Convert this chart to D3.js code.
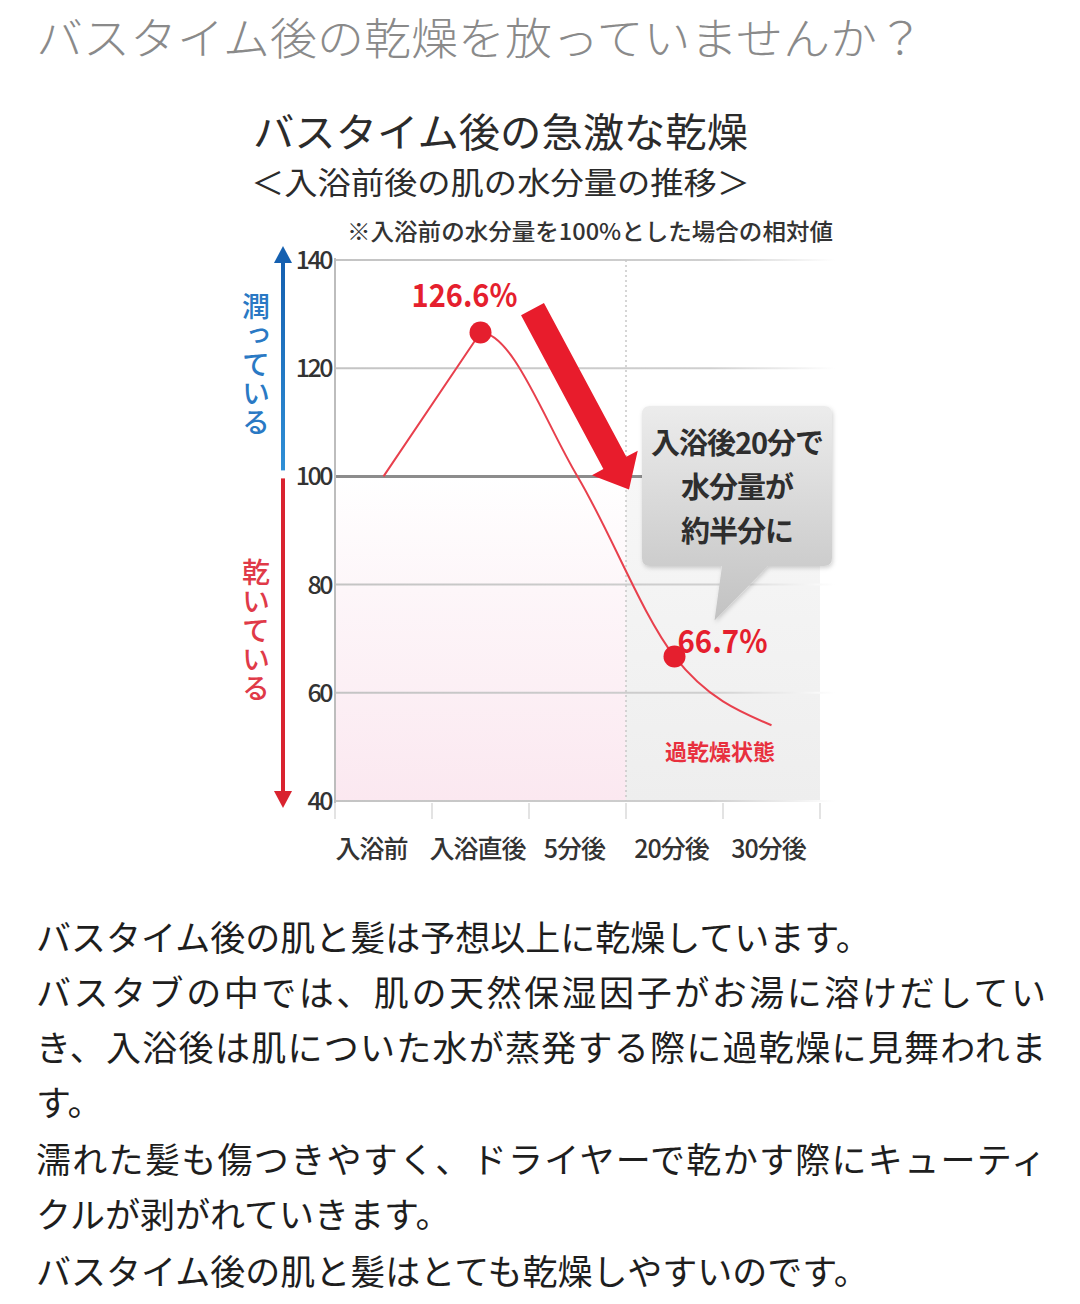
<!DOCTYPE html>
<html><head><meta charset="utf-8">
<script src="https://cdn.jsdelivr.net/npm/d3@7"></script>
<style>
html,body{margin:0;padding:0;background:#fff;}
svg{display:block;}
text{font-family:"Noto Sans CJK JP","Noto Sans",sans-serif;}
</style></head>
<body>
<svg id="chart" width="1080" height="1304"></svg>
<script>
// ---- data ----
const pageTitle = "バスタイム後の乾燥を放っていませんか？";
const chartTitle = "バスタイム後の急激な乾燥";
const chartSubtitle = "＜入浴前後の肌の水分量の推移＞";
const chartNote = "※入浴前の水分量を100%とした場合の相対値";
const categories = ["入浴前", "入浴直後", "5分後", "20分後", "30分後"];
const moistureValues = [100, 126.6, 100, 66.7, 54];
const yTicks = [40, 60, 80, 100, 120, 140];
const highlightIdx = [1, 3];
const highlightLabels = ["126.6%", "66.7%"];
const moistLabel = "潤っている";
const dryLabel = "乾いている";
const calloutLines = ["入浴後20分で", "水分量が", "約半分に"];
const overDryLabel = "過乾燥状態";
const bodyLines = [
  "バスタイム後の肌と髪は予想以上に乾燥しています。",
  "バスタブの中では、肌の天然保湿因子がお湯に溶けだしてい",
  "き、入浴後は肌についた水が蒸発する際に過乾燥に見舞われま",
  "す。",
  "濡れた髪も傷つきやすく、ドライヤーで乾かす際にキューティ",
  "クルが剥がれていきます。",
  "バスタイム後の肌と髪はとても乾燥しやすいのです。"
];
const justifiedLines = [1, 2, 4];

// ---- layout ----
const svg = d3.select("#chart");
const L = 335, R = 820, T = 260, B = 801;
const x = d3.scaleBand().domain(categories).range([L, R]);
const y = d3.scaleLinear().domain([40, 140]).range([B, T]);
const cx = c => x(c) + x.bandwidth() / 2;
const RED = "#e51f2e";

const defs = svg.append("defs");
const gGrid = defs.append("linearGradient").attr("id","gridFade")
  .attr("gradientUnits","userSpaceOnUse").attr("x1",L).attr("x2",835).attr("y1",0).attr("y2",0);
gGrid.append("stop").attr("offset","0").attr("stop-color","#c4c4c4");
gGrid.append("stop").attr("offset","0.75").attr("stop-color","#cfcfcf");
gGrid.append("stop").attr("offset","1").attr("stop-color","#ffffff");
const gPink = defs.append("linearGradient").attr("id","pinkBg").attr("x1",0).attr("x2",0).attr("y1",0).attr("y2",1);
gPink.append("stop").attr("offset","0").attr("stop-color","#ffffff");
gPink.append("stop").attr("offset","0.35").attr("stop-color","#fdf6f9");
gPink.append("stop").attr("offset","1").attr("stop-color","#fbe8f0");
const gGray = defs.append("linearGradient").attr("id","grayBg").attr("x1",0).attr("x2",0).attr("y1",0).attr("y2",1);
gGray.append("stop").attr("offset","0").attr("stop-color","#f7f7f7");
gGray.append("stop").attr("offset","1").attr("stop-color","#eeeeee");
const gCall = defs.append("linearGradient").attr("id","callBg").attr("x1",0).attr("x2",0).attr("y1",0).attr("y2",1);
gCall.append("stop").attr("offset","0").attr("stop-color","#ececec");
gCall.append("stop").attr("offset","1").attr("stop-color","#c2c2c2");
const gBlue = defs.append("linearGradient").attr("id","blueArr").attr("x1",0).attr("x2",0).attr("y1",0).attr("y2",1);
gBlue.append("stop").attr("offset","0").attr("stop-color","#1560b0");
gBlue.append("stop").attr("offset","1").attr("stop-color","#2f8fd6");
const shadow = defs.append("filter").attr("id","shadow").attr("x","-10%").attr("y","-10%").attr("width","130%").attr("height","130%");
shadow.append("feDropShadow").attr("dx",1).attr("dy",2).attr("stdDeviation",2).attr("flood-color","#000").attr("flood-opacity",0.18);

// ---- titles ----
svg.append("text").attr("x",36).attr("y",55).attr("font-size",44).attr("font-weight",300)
  .attr("fill","#8a8a8a").attr("textLength",888).attr("lengthAdjust","spacingAndGlyphs").text(pageTitle);
svg.append("text").attr("x",253).attr("y",147).attr("font-size",40).attr("font-weight",400)
  .attr("fill","#2b2b2b").attr("textLength",495).attr("lengthAdjust","spacingAndGlyphs").text(chartTitle);
svg.append("text").attr("x",251).attr("y",194).attr("font-size",31).attr("font-weight",400)
  .attr("fill","#2b2b2b").attr("textLength",499).attr("lengthAdjust","spacingAndGlyphs").text(chartSubtitle);
svg.append("text").attr("x",347).attr("y",240).attr("font-size",23).attr("font-weight",500)
  .attr("fill","#333").attr("textLength",486).attr("lengthAdjust","spacingAndGlyphs").text(chartNote);

// ---- backgrounds ----
const splitX = x(categories[3]);
svg.append("rect").attr("x",L).attr("y",y(100)).attr("width",splitX-L).attr("height",B-y(100)).attr("fill","url(#pinkBg)");
svg.append("rect").attr("x",splitX).attr("y",y(100)).attr("width",R-splitX).attr("height",B-y(100)).attr("fill","url(#grayBg)");

// ---- grid ----
svg.append("g").selectAll("line").data(yTicks.filter(d=>d!==100)).join("line")
  .attr("x1",L).attr("x2",835).attr("y1",d=>y(d)).attr("y2",d=>y(d))
  .attr("stroke","url(#gridFade)").attr("stroke-width",2);
svg.append("line").attr("x1",L).attr("x2",830).attr("y1",y(100)).attr("y2",y(100))
  .attr("stroke","#8c8c8c").attr("stroke-width",3);
svg.append("line").attr("x1",splitX).attr("x2",splitX).attr("y1",T).attr("y2",B)
  .attr("stroke","#c8c8c8").attr("stroke-width",1.5).attr("stroke-dasharray","2,3");
svg.append("line").attr("x1",L).attr("x2",L).attr("y1",T-2).attr("y2",B+2)
  .attr("stroke","#bdbdbd").attr("stroke-width",2);

// x axis ticks & labels
const xBounds = categories.map(c=>x(c)).concat([R]);
svg.append("g").selectAll("line").data(xBounds).join("line")
  .attr("x1",d=>d).attr("x2",d=>d).attr("y1",B+2).attr("y2",B+18)
  .attr("stroke","#dadada").attr("stroke-width",1.5);
svg.append("g").selectAll("text").data(categories).join("text")
  .attr("x",(d,i)=> i===0 ? cx(d)-12 : cx(d)-3).attr("y",858).attr("text-anchor","middle")
  .attr("font-size",25).attr("font-weight",500).attr("fill","#333").attr("letter-spacing",-1).text(d=>d);

// y tick labels
svg.append("g").selectAll("text").data(yTicks).join("text")
  .attr("x",331).attr("y",d=>y(d)+9).attr("text-anchor","end")
  .attr("font-size",25).attr("font-weight",500).attr("fill","#333").attr("letter-spacing",-2.5).text(d=>d);

// ---- side arrow ----
const ax = 283;
svg.append("rect").attr("x",ax-2).attr("y",y(140)+2).attr("width",4).attr("height",y(100)-y(140)-8).attr("fill","url(#blueArr)");
svg.append("path").attr("d",`M${ax},${y(140)-14}L${ax-9},${y(140)+3}L${ax+9},${y(140)+3}Z`).attr("fill","#1560b0");
svg.append("rect").attr("x",ax-2).attr("y",y(100)+2).attr("width",4).attr("height",y(40)-y(100)-8).attr("fill","#d9232f");
svg.append("path").attr("d",`M${ax},${y(40)+7}L${ax-9},${y(40)-10}L${ax+9},${y(40)-10}Z`).attr("fill","#d9232f");
svg.append("text").attr("x",256).attr("y",292).attr("font-size",28).attr("fill","#2a79c4")
  .attr("font-weight",500).style("writing-mode","vertical-rl").attr("letter-spacing",1).text(moistLabel);
svg.append("text").attr("x",256).attr("y",558).attr("font-size",28).attr("fill","#e03a48")
  .attr("font-weight",500).style("writing-mode","vertical-rl").attr("letter-spacing",1).text(dryLabel);

// ---- big red arrow (annotation) ----
{
  const sx = cx(categories[1]) + 52, sy = y(130.9);
  const tx = splitX + 3, ty = y(97.6);
  const dx = tx - sx, dy = ty - sy, len = Math.hypot(dx, dy);
  const ux = dx/len, uy = dy/len, px = uy, py = -ux;
  const hw = 13, headW = 26, headL = 30;
  const bx = tx - ux*headL, by = ty - uy*headL;
  const pts = [
    [sx+px*hw, sy+py*hw],[bx+px*hw, by+py*hw],[bx+px*headW, by+py*headW],[tx,ty],
    [bx-px*headW, by-py*headW],[bx-px*hw, by-py*hw],[sx-px*hw, sy-py*hw]
  ];
  svg.append("path").attr("d","M"+pts.map(p=>p.join(",")).join("L")+"Z").attr("fill","#e81c2c");
}

// ---- callout ----
{
  const bx0 = 642, by0 = 406, bw = 190, bh = 160;
  const g = svg.append("g").attr("filter","url(#shadow)");
  const tip = [cx(categories[3])+40, y(66.7)-36];
  g.append("path").attr("d",
    `M${bx0+8},${by0}H${bx0+bw-8}Q${bx0+bw},${by0} ${bx0+bw},${by0+8}V${by0+bh-8}Q${bx0+bw},${by0+bh} ${bx0+bw-8},${by0+bh}`+
    `H${bx0+126}L${tip[0]},${tip[1]}L${bx0+80},${by0+bh}H${bx0+8}Q${bx0},${by0+bh} ${bx0},${by0+bh-8}V${by0+8}Q${bx0},${by0} ${bx0+8},${by0}Z`)
    .attr("fill","url(#callBg)");
  svg.append("g").selectAll("text").data(calloutLines).join("text")
    .attr("x",bx0+bw/2).attr("y",(d,i)=>by0+48+i*44).attr("text-anchor","middle")
    .attr("font-size",29).attr("font-weight",700).attr("fill","#2e2e2e").attr("letter-spacing",-1).text(d=>d);
}

// ---- line: straight rise, smooth (monotone) fall from the peak ----
const pts = categories.map((c,i)=>[cx(c), y(moistureValues[i])]);
const full = d3.line().curve(d3.curveMonotoneX)(pts);
const segs = full.split("C");           // segs[0] = "Mx0,y0", segs[1] = first bezier (rise)
const pathD = d3.line()(pts.slice(0,2)) + segs.slice(2).map(s => "C" + s).join("");
svg.append("path").attr("d", pathD)
  .attr("fill","none").attr("stroke","#e8404d").attr("stroke-width",2).attr("stroke-linejoin","round");
svg.append("g").selectAll("circle").data(highlightIdx).join("circle")
  .attr("cx",i=>pts[i][0]).attr("cy",i=>pts[i][1]).attr("r",11).attr("fill","#e51f2e");

// value labels
svg.append("text").attr("x",pts[1][0]-16).attr("y",pts[1][1]-25).attr("text-anchor","middle")
  .attr("font-size",32).attr("font-weight",700).attr("fill",RED)
  .attr("textLength",106).attr("lengthAdjust","spacingAndGlyphs").text(highlightLabels[0]);
svg.append("text").attr("x",pts[3][0]+3).attr("y",pts[3][1]-4)
  .attr("font-size",32).attr("font-weight",700).attr("fill",RED)
  .attr("textLength",90).attr("lengthAdjust","spacingAndGlyphs").text(highlightLabels[1]);
svg.append("text").attr("x",720).attr("y",760).attr("text-anchor","middle")
  .attr("font-size",22).attr("font-weight",700).attr("fill","#e8303e").text(overDryLabel);

// ---- body text ----
svg.append("g").selectAll("text").data(bodyLines).join("text")
  .attr("x",36).attr("y",(d,i)=>[951,1006,1061,1116,1173,1228,1285][i])
  .attr("font-size",35).attr("fill","#1e1e1e")
  .each(function(d,i){ if(justifiedLines.includes(i)) d3.select(this).attr("textLength",1010).attr("lengthAdjust","spacing"); })
  .text(d=>d);
</script>
</body></html>
